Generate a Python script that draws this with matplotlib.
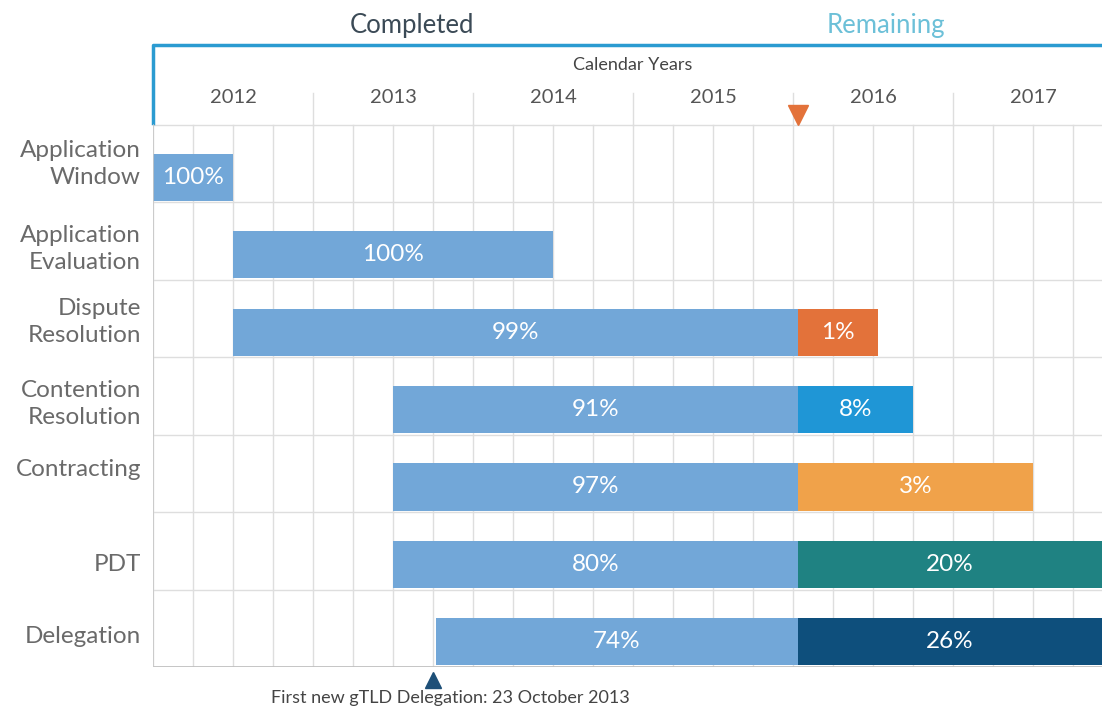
import matplotlib.pyplot as plt
import numpy as np
from matplotlib.transforms import blended_transform_factory

plt.rcParams["font.family"] = ["Lato", "DejaVu Sans"]

# data
tasks = ["Application\nWindow", "Application\nEvaluation", "Dispute\nResolution",
         "Contention\nResolution", "Contracting", "PDT", "Delegation"]
starts = [2012.0, 2012.5, 2012.5, 2013.5, 2013.5, 2013.5, 2013.77]
completed_end = [2012.5, 2014.5, 2016.03, 2016.03, 2016.03, 2016.03, 2016.03]
remaining_end = [None, None, 2016.53, 2016.75, 2017.5, 2018.5, 2018.5]
completed_pct = [100, 100, 99, 91, 97, 80, 74]
remaining_pct = [None, None, 1, 8, 3, 20, 26]
remaining_colors = [None, None, "#e3723a", "#1f96d6", "#f0a24a", "#1f8282", "#0e4f7c"]
years = [2012, 2013, 2014, 2015, 2016, 2017]
today = 2016.03
first_delegation = 2013.75
label_offsets = [0.5, 0.6, 0.55, 0.6, 0.45, 0.68, 0.6]

completed_color = "#72a7d8"
grid_color = "#dedede"
xmin, xmax = 2012.0, 2012.0 + (1102 - 153) / 160

fig = plt.figure(figsize=(11.02, 7.08), dpi=100)
ax = fig.add_axes([153 / 1102, 41 / 708, 1 - 153 / 1102, (667 - 45) / 708])
row_h = 77.4
header = 80 / row_h
ax.set_xlim(xmin, xmax)
ax.set_ylim(7, -header)
ax.axis("off")

n = len(tasks)
# grid
for q in np.arange(xmin, xmax, 0.25):
    ax.plot([q, q], [0, n], color=grid_color, lw=1, zorder=0)
for r in range(n + 1):
    ax.plot([xmin, xmax], [r, r], color=grid_color, lw=1, zorder=0)
ax.plot([xmin, xmax], [n, n], color="#bdbdbd", lw=1.2, zorder=3)
ax.plot([xmin, xmin], [0, n], color="#c8c8c8", lw=1.2, zorder=3)

# header
hy = 48 / row_h - header  # year separators top
for y in years[1:]:
    ax.plot([y, y], [hy, 0], color=grid_color, lw=1, zorder=0)
for y in years:
    ax.text(y + 0.5, -28 / row_h, str(y), ha="center", va="center",
            fontsize=14.5, color="#555555")
ax.text(2015.0, -60 / row_h, "Calendar Years", ha="center", va="center",
        fontsize=13, color="#444444")
bracket = "#2b9bd1"
ax.plot([xmin, xmin, xmax], [-0.03, -header, -header], color=bracket, lw=2.5,
        clip_on=False, solid_joinstyle="round")
ax.text(2013.62, -header - 19 / row_h, "Completed", ha="center", va="center",
        fontsize=18.5, color="#3b4a56", clip_on=False)
ax.text(2016.58, -header - 19 / row_h, "Remaining", ha="center", va="center",
        fontsize=18.5, color="#6cc0d8", clip_on=False)
ax.plot([today], [-10 / row_h], marker="v", color="#e3723a", markersize=15,
        clip_on=False, zorder=5)

# bars
tr = blended_transform_factory(fig.transFigure, ax.transData)
for i, task in enumerate(tasks):
    yc = i + 0.675
    ax.barh(yc, completed_end[i] - starts[i], left=starts[i], height=0.61,
            color=completed_color, zorder=2)
    ax.text((starts[i] + completed_end[i]) / 2, yc, f"{completed_pct[i]}%",
            ha="center", va="center", fontsize=17.5, color="white", zorder=4)
    if remaining_end[i] is not None:
        ax.barh(yc, remaining_end[i] - completed_end[i], left=completed_end[i],
                height=0.61, color=remaining_colors[i], zorder=2)
        cx = (completed_end[i] + min(remaining_end[i], xmax)) / 2
        ax.text(cx, yc, f"{remaining_pct[i]}%", ha="center", va="center",
                fontsize=17.5, color="white", zorder=4)
    ax.text(141 / 1102, i + label_offsets[i], task, transform=tr, ha="right",
            va="center", fontsize=17.5, color="#6a6a6a", linespacing=1.35)

# first delegation marker
ax.plot([first_delegation], [n + 13 / row_h], marker="^", color="#1d4f78",
        markersize=11, clip_on=False)
ax.text(first_delegation + 0.11, n + 31 / row_h,
        "First new gTLD Delegation: 23 October 2013", ha="center", va="center",
        fontsize=13, color="#444444", clip_on=False)

fig.savefig("out.png", dpi=100)
